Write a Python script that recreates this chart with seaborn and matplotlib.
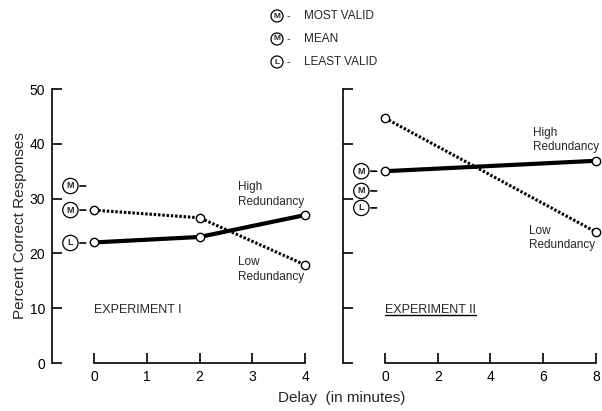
import numpy as np
import pandas as pd
import seaborn as sns
import matplotlib.pyplot as plt

# values
delay1 = [0, 2, 4]
low1 = [27.9, 26.5, 17.9]
high1 = [22.0, 23.0, 27.0]
delay2 = [0, 8]
low2 = [44.7, 23.9]
high2 = [35.0, 36.9]
ref1 = [32.3, 27.9, 21.9]
ref2 = [35.0, 31.4, 28.3]
ref_letters = ['M', 'M', 'L']
ref_names = ['MOST VALID', 'MEAN', 'LEAST VALID']
xticks1 = [0, 1, 2, 3, 4]
xticks2 = [0, 2, 4, 6, 8]
yticks = [0, 10, 20, 30, 40, 50]

sns.set_style('ticks')
plt.rcParams['font.family'] = ['Liberation Sans', 'DejaVu Sans']

fig = plt.figure(figsize=(6.02, 4.11), dpi=100)
ax1 = fig.add_axes([52/602, 48/411, 260/602, 274/411])
ax2 = fig.add_axes([343/602, 48/411, 258/602, 274/411])


def style_axis(ax, xticks, xlim, labels):
    ax.set_xlim(*xlim)
    ax.set_ylim(0, 50)
    ax.set_xticks(xticks)
    ax.set_yticks(yticks)
    if not labels:
        ax.set_yticklabels([])
    sns.despine(ax=ax)
    ax.spines['bottom'].set_bounds(xticks[0], xticks[-1])
    for s in ['left', 'bottom']:
        ax.spines[s].set_linewidth(1.2)
        ax.spines[s].set_color('black')
    ax.tick_params(direction='in', length=7, width=1.2, colors='black',
                   labelsize=10, pad=5)
    ax.patch.set_alpha(0)


def draw_panel(ax, x, low, high, refs):
    sns.lineplot(x=x, y=low, ax=ax, color='black', lw=2.2,
                 linestyle=(0, (0.8, 0.6)), marker='o', markersize=6,
                 markerfacecolor='white', markeredgecolor='black',
                 markeredgewidth=1, zorder=3)
    sns.lineplot(x=x, y=high, ax=ax, color='black', lw=3,
                 marker='o', markersize=6, markerfacecolor='white',
                 markeredgecolor='black', markeredgewidth=1, zorder=4)
    for letter, v in zip(ref_letters, refs):
        ax.annotate(letter, xy=(x[0], v), xytext=(-17, 0),
                    textcoords='offset points', ha='center', va='center',
                    fontsize=6.5, fontweight='bold',
                    bbox=dict(boxstyle='circle,pad=0.35', fc='white',
                              ec='black', lw=0.9),
                    arrowprops=dict(arrowstyle='-', color='black', lw=1.2,
                                    shrinkA=1, shrinkB=6))


draw_panel(ax1, delay1, low1, high1, ref1)
draw_panel(ax2, delay2, low2, high2, ref2)
style_axis(ax1, xticks1, (-0.796, 4.13), True)
style_axis(ax2, xticks2, (-1.59, 8.19), False)

ax1.set_ylabel('Percent Correct Responses', fontsize=11, labelpad=2)
ax1.set_xlabel('')
ax2.set_xlabel('')

ax1.text(2.72, 30.8, 'High\nRedundancy', fontsize=8.5, ha='left', va='center',
         linespacing=1.3)
ax1.text(2.72, 17.0, 'Low\nRedundancy', fontsize=8.5, ha='left', va='center',
         linespacing=1.3)
ax2.text(5.6, 40.7, 'High\nRedundancy', fontsize=8.5, ha='left', va='center',
         linespacing=1.3)
ax2.text(5.45, 22.8, 'Low\nRedundancy', fontsize=8.5, ha='left', va='center',
         linespacing=1.3)

ax1.text(0, 9.7, 'EXPERIMENT I', fontsize=9, ha='left', va='center')
t2 = ax2.text(0, 9.7, 'EXPERIMENT II', fontsize=9, ha='left', va='center')

fig.text(342/602, 1 - 398/411, 'Delay  (in minutes)', fontsize=11,
         ha='center', va='center')

# legend at top
for i, (letter, name) in enumerate(zip(ref_letters, ref_names)):
    yy = 1 - (16 + 23 * i) / 411
    fig.text(277/602, yy, letter, fontsize=6, fontweight='bold',
             ha='center', va='center',
             bbox=dict(boxstyle='circle,pad=0.3', fc='white', ec='black',
                       lw=0.9))
    fig.text(288/602, yy, '-', fontsize=8, ha='center', va='center')
    fig.text(304/602, yy, name, fontsize=8.5, ha='left', va='center')

# underline the second experiment label
fig.canvas.draw()
bb = t2.get_window_extent()
inv = ax2.transData.inverted()
(x0, y0), (x1, _) = inv.transform([(bb.x0, bb.y0 + 1), (bb.x1, bb.y0 + 1)])
ax2.plot([x0, x1], [y0, y0], color='black', lw=1)

fig.savefig('out.png', dpi=100)
